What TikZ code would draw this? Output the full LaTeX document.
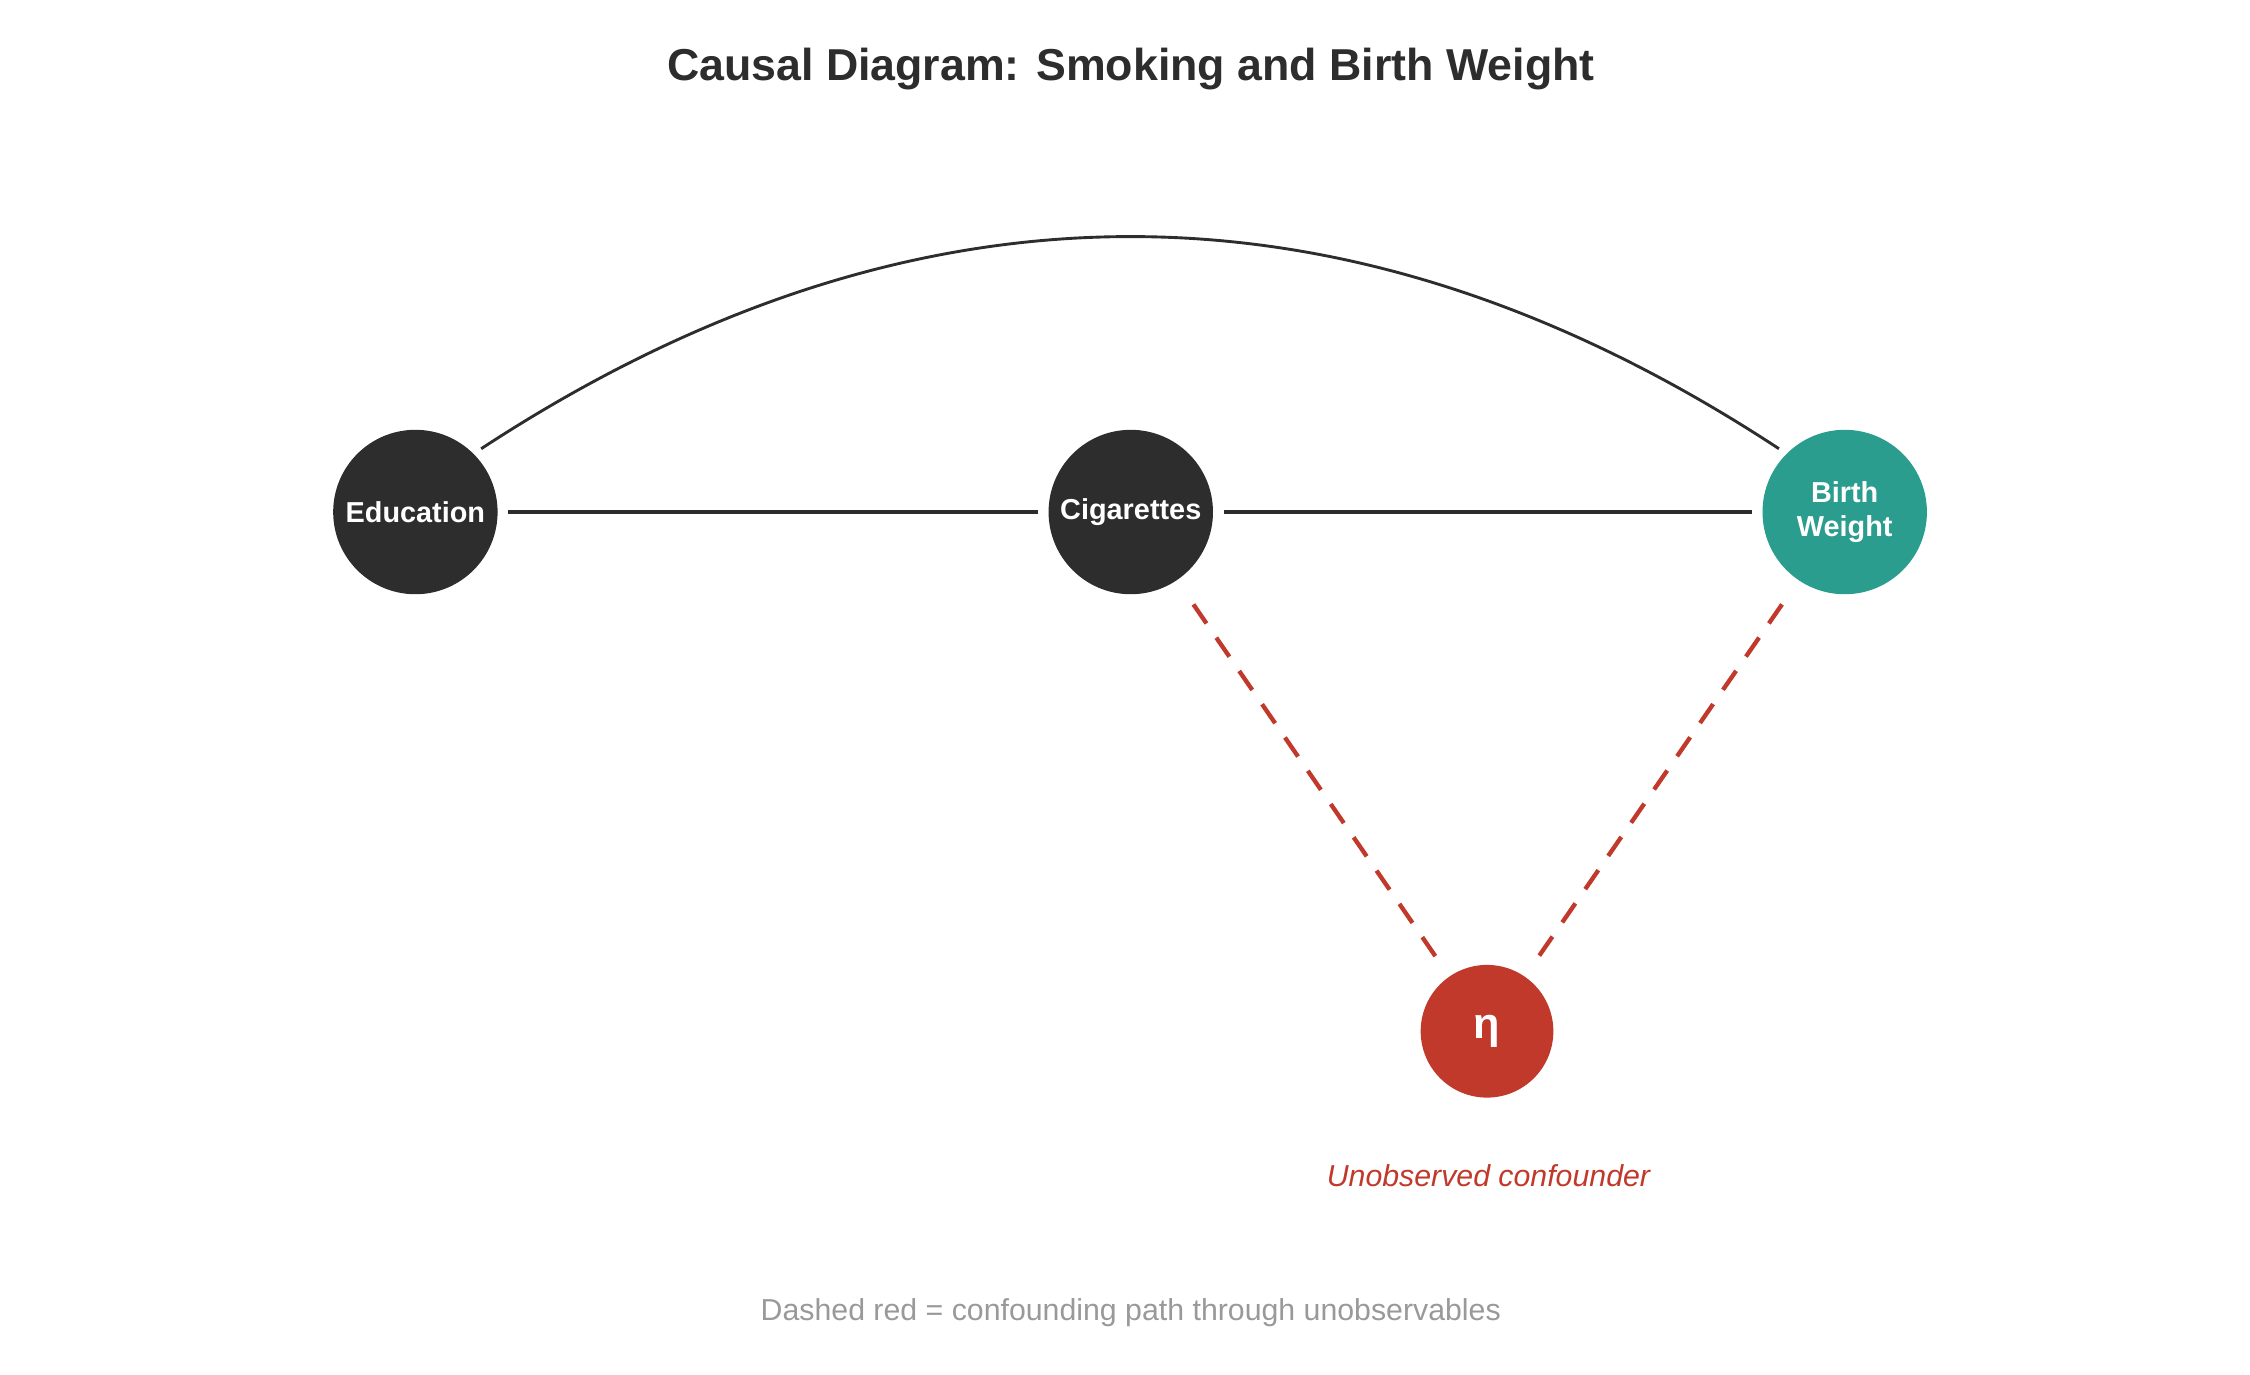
\documentclass[tikz,border=0pt]{standalone}
\usepackage{fontspec}
\setmainfont{Liberation Sans}
\begin{document}
\begin{tikzpicture}[x=0.5pt,y=-0.5pt,
  dk/.style={circle,fill=dark,minimum size=57pt,inner sep=0pt,text=white,font=\bfseries\fontsize{10}{12}\selectfont,align=center},
  conn/.style={draw=dark,line width=1.5pt},
  conf/.style={draw=red1,line width=1.5pt,dash pattern=on 8pt off 6pt}]
\definecolor{dark}{HTML}{2D2D2D}
\definecolor{teal1}{HTML}{2A9D8F}
\definecolor{red1}{HTML}{C0392B}
\definecolor{gray1}{HTML}{999999}
\useasboundingbox (0,0) rectangle (1560,953.3);
\node[font=\bfseries\fontsize{15.5}{18}\selectfont,text=dark] (title) at (784,48) {Causal Diagram: Smoking and Birth Weight};
\node[dk] (edu) at (288,355) {Education};
\node[dk] (cig) at (784,355) {Cigarettes};
\node[dk,fill=teal1] (bw) at (1279,355) {Birth\\Weight};
\node[dk,fill=red1,minimum size=46pt,font=\bfseries\fontsize{15}{18}\selectfont] (eta) at (1031,715) {η};
\node[text=red1,font=\itshape\fontsize{10.5}{12}\selectfont] (lab) at (1032,815) {Unobserved confounder};
\node[text=gray1,font=\fontsize{10.5}{12}\selectfont] (cap) at (784,910) {Dashed red = confounding path through unobservables};
\draw[conn] (edu.east) ++(7,0) coordinate (e1);
\draw[conn,shorten <=3.5pt,shorten >=3.5pt] (edu) -- (cig);
\draw[conn,shorten <=3.5pt,shorten >=3.5pt] (cig) -- (bw);
\draw[draw=dark,line width=1pt,shorten <=3pt,shorten >=3pt] (edu.45) .. controls (633,115) and (935,115) .. (bw.135);
\draw[conf,shorten <=10pt,shorten >=3pt] (cig.-56) -- (eta);
\draw[conf,shorten <=10pt,shorten >=3pt] (bw.-124) -- (eta);
\end{tikzpicture}
\end{document}
